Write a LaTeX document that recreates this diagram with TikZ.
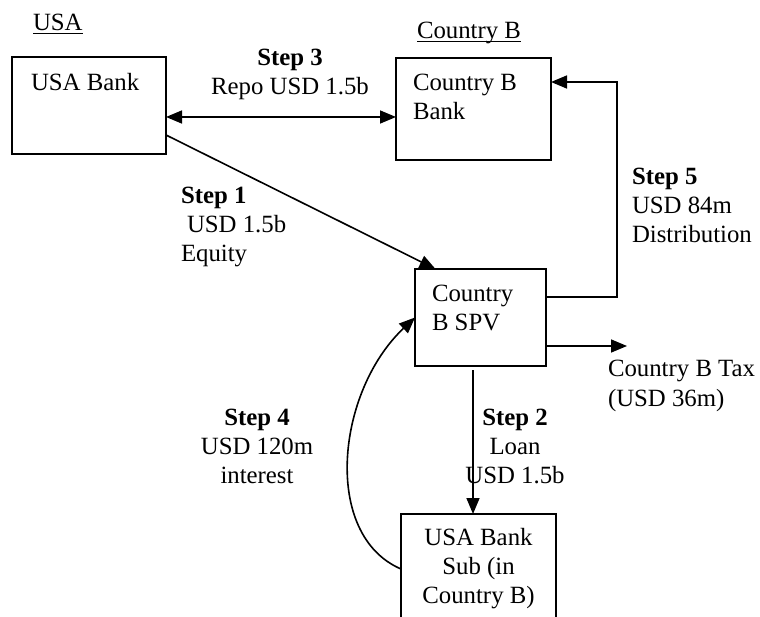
\documentclass[tikz,border=0pt]{standalone}
\usepackage{fontspec}
\setmainfont{Liberation Serif}
\usetikzlibrary{arrows.meta,calc}
\begin{document}
\begin{tikzpicture}[x=1pt,y=-1pt,
  box/.style={draw, line width=1.8pt, inner sep=0pt, outer sep=0pt},
  tip/.style={-{Triangle[length=16pt,width=13pt]}},
  flow/.style={line width=1.6pt, tip},
  twoway/.style={line width=1.6pt, {Triangle[length=16pt,width=13pt]}-{Triangle[length=16pt,width=13pt]}},
  lbl/.style={inner sep=0pt, outer sep=0pt, font=\fontsize{24.8}{29}\selectfont},
  uline/.style={line width=1.5pt},
]
\clip (0,0) rectangle (760,617);

% jurisdiction headings
\node[lbl, anchor=base west] (usahead) at (33,31) {USA};
\node[lbl, anchor=base west] (cbhead) at (417,39) {Country B};
\draw[uline] ([yshift=-2.5pt]usahead.base west) -- ([yshift=-2.5pt]usahead.base east);
\draw[uline] ([yshift=-2.5pt]cbhead.base west) -- ([yshift=-2.5pt]cbhead.base east);

% entities
\node[box, minimum width=154pt, minimum height=97pt] (usa) at (89,105.5) {};
\node[box, minimum width=155pt, minimum height=102pt] (cbb) at (473.5,109) {};
\node[box, minimum width=131pt, minimum height=97pt] (spv) at (480.5,317.5) {};
\node[box, minimum width=155pt, minimum height=126pt] (sub) at (478.5,577) {};

% entity names (multi-line nodes are placed by the baseline of their last line)
\node[lbl, anchor=base west] (usatxt) at (31,91) {USA Bank};
\node[lbl, anchor=base west, align=left] (cbbtxt) at (413,120) {Country B\\Bank};
\node[lbl, anchor=base west, align=left] (spvtxt) at (432,331) {Country\\B SPV};
\node[lbl, anchor=base, align=center] (subtxt) at (478.5,603) {USA Bank\\Sub (in\\Country B)};

% flows
\draw[twoway] ([yshift=-11.5pt]usa.east) -- ([yshift=-8pt]cbb.west);
\draw[flow] ([yshift=-29.5pt]usa.east) -- ([xshift=20.5pt]spv.north west);
\coordinate (bend5) at (617,82);
\draw[flow] ([yshift=20.5pt]spv.east) -| (bend5) -- (bend5 -| cbb.east);
\coordinate (taxend) at (627,346);
\draw[flow] ([yshift=-28.5pt]spv.east) -- (taxend);
\draw[flow] ([xshift=-7.5pt,yshift=-4pt]spv.south) -- ([xshift=-5.5pt]sub.north);
\draw[flow] ([yshift=8pt]sub.west) .. controls (322,535) and (336,392) .. (spv.west);

% flow labels
\node[lbl, anchor=base, align=center] (s3) at (290,95) {\textbf{Step 3}\\Repo USD 1.5b};
\node[lbl, anchor=base west, align=left] (s1) at (181,262) {\textbf{Step 1}\\\hspace*{6pt}USD 1.5b\\Equity};
\node[lbl, anchor=base west, align=left] (s5) at (632,243) {\textbf{Step 5}\\USD 84m\\Distribution};
\node[lbl, anchor=base west, align=left] (tax) at (608,406) {Country B Tax\\(USD 36m)};
\node[lbl, anchor=base, align=center] (s2) at (515,483) {\textbf{Step 2}\\Loan\\USD 1.5b};
\node[lbl, anchor=base, align=center] (s4) at (257,483) {\textbf{Step 4}\\USD 120m\\interest};
\end{tikzpicture}
\end{document}
